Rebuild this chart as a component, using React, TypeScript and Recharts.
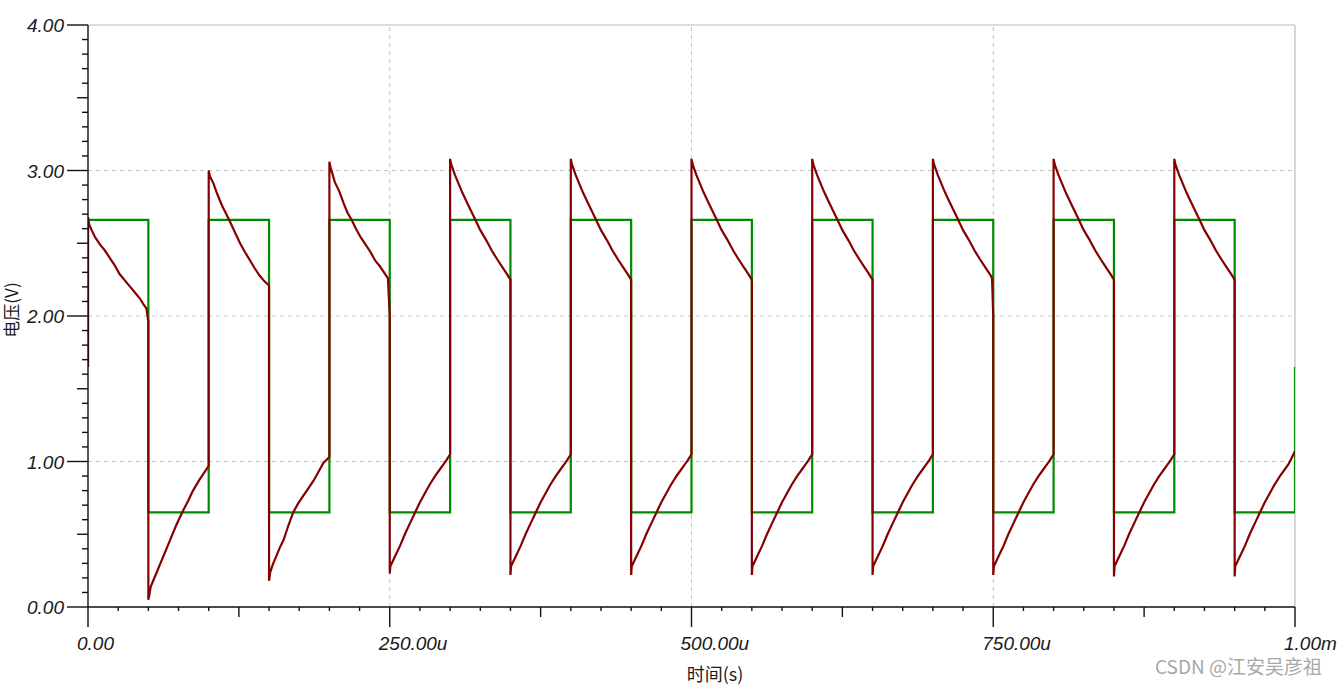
import { LineChart, Line, XAxis, YAxis, ReferenceLine } from 'recharts'

// time in microseconds, voltage in volts
const X_TICKS = [
  0, 25, 50, 75, 100, 125, 150, 175, 200, 225, 250, 275, 300, 325, 350, 375, 400, 425, 450, 475, 500,
  525, 550, 575, 600, 625, 650, 675, 700, 725, 750, 775, 800, 825, 850, 875, 900, 925, 950, 975, 1000,
]
const X_LABELS: Record<number, string> = {
  0: '0.00',
  250: '250.00u',
  500: '500.00u',
  750: '750.00u',
  1000: '1.00m',
}
const Y_TICKS = Array.from({ length: 41 }, (_, i) => i / 10)
const Y_LABELS = ['0.00', '1.00', '2.00', '3.00', '4.00']

// green: square wave source
const greenWave: [number, number][] = [
  [0, 1.65], [0, 2.66], [50, 2.66], [50, 0.65], [100, 0.65],
  [100, 2.66], [150, 2.66], [150, 0.65], [200, 0.65],
  [200, 2.66], [250, 2.66], [250, 0.65], [300, 0.65],
  [300, 2.66], [350, 2.66], [350, 0.65], [400, 0.65],
  [400, 2.66], [450, 2.66], [450, 0.65], [500, 0.65],
  [500, 2.66], [550, 2.66], [550, 0.65], [600, 0.65],
  [600, 2.66], [650, 2.66], [650, 0.65], [700, 0.65],
  [700, 2.66], [750, 2.66], [750, 0.65], [800, 0.65],
  [800, 2.66], [850, 2.66], [850, 0.65], [900, 0.65],
  [900, 2.66], [950, 2.66], [950, 0.65], [1000, 0.65], [1000, 1.65],
]

// red: output, one array per period
const red0: [number, number][] = [
  [0, 1.65], [0, 2.68], [1, 2.63], [3, 2.59], [6, 2.54], [10, 2.49], [14, 2.45], [18, 2.4], [22, 2.35],
  [26, 2.29], [31, 2.24], [35, 2.2], [39, 2.16], [43, 2.12], [46, 2.08], [48.5, 2.05], [50, 1.96],
  [50, 0.05], [51, 0.09], [52, 0.14], [56, 0.22], [60, 0.3], [64, 0.38], [68, 0.46], [73, 0.56],
  [78, 0.65], [83, 0.73], [87, 0.8], [92, 0.87], [96, 0.92], [100, 0.97],
]
const red1: [number, number][] = [
  [100, 3.0], [101, 2.96], [104, 2.91], [107, 2.84], [111, 2.76], [114, 2.71], [117, 2.66], [122, 2.57],
  [126, 2.5], [130, 2.44], [134, 2.385], [138, 2.33], [142, 2.28], [146, 2.24], [150, 2.21],
  [150, 0.18], [151, 0.24], [153, 0.29], [156, 0.35], [159, 0.41], [162, 0.46], [166, 0.56], [170, 0.65],
  [174, 0.71], [178, 0.76], [183, 0.82], [187, 0.87], [191, 0.93], [195, 0.99], [200, 1.03],
]
const red2: [number, number][] = [
  [200, 3.06], [201, 3.02], [204.5, 2.92], [208, 2.86], [212, 2.77], [215, 2.71], [218.5, 2.66], [222, 2.6],
  [226, 2.54], [230, 2.49], [234, 2.44], [238, 2.38], [242, 2.34], [246, 2.29], [248.5, 2.26], [250, 2.0],
  [250, 0.23], [250.5, 0.28], [254.5, 0.35], [258.5, 0.42], [262.5, 0.5], [267, 0.58], [271, 0.65],
  [275, 0.72], [279, 0.78], [283, 0.84], [287.5, 0.9], [291, 0.94], [294.5, 0.98], [297, 1.01], [300, 1.05],
]
const red3: [number, number][] = [
  [300, 3.08], [301, 3.04], [304, 2.97], [307, 2.91], [310, 2.85], [314, 2.78], [317.5, 2.72], [321, 2.66],
  [325, 2.59], [330, 2.52], [334.5, 2.45], [339, 2.39], [343, 2.34], [347, 2.29], [350, 2.25],
  [350, 0.22], [350.5, 0.28], [354.5, 0.35], [358.5, 0.42], [362.5, 0.5], [367, 0.58], [371, 0.65],
  [375, 0.72], [379, 0.78], [383, 0.84], [387.5, 0.9], [391, 0.94], [394.5, 0.98], [397, 1.01], [400, 1.05],
]
const red4: [number, number][] = [
  [400, 3.08], [401, 3.04], [404, 2.97], [407, 2.91], [410, 2.85], [414, 2.78], [417.5, 2.72], [421, 2.66],
  [425, 2.59], [430, 2.52], [434.5, 2.45], [439, 2.39], [443, 2.34], [447, 2.29], [450, 2.25],
  [450, 0.22], [450.5, 0.28], [454.5, 0.35], [458.5, 0.42], [462.5, 0.5], [467, 0.58], [471, 0.65],
  [475, 0.72], [479, 0.78], [483, 0.84], [487.5, 0.9], [491, 0.94], [494.5, 0.98], [497, 1.01], [500, 1.05],
]
const red5: [number, number][] = [
  [500, 3.08], [501, 3.04], [504, 2.97], [507, 2.91], [510, 2.85], [514, 2.78], [517.5, 2.72], [521, 2.66],
  [525, 2.59], [530, 2.52], [534.5, 2.45], [539, 2.39], [543, 2.34], [547, 2.29], [550, 2.25],
  [550, 0.22], [550.5, 0.28], [554.5, 0.35], [558.5, 0.42], [562.5, 0.5], [567, 0.58], [571, 0.65],
  [575, 0.72], [579, 0.78], [583, 0.84], [587.5, 0.9], [591, 0.94], [594.5, 0.98], [597, 1.01], [600, 1.05],
]
const red6: [number, number][] = [
  [600, 3.08], [601, 3.04], [604, 2.97], [607, 2.91], [610, 2.85], [614, 2.78], [617.5, 2.72], [621, 2.66],
  [625, 2.59], [630, 2.52], [634.5, 2.45], [639, 2.39], [643, 2.34], [647, 2.29], [650, 2.25],
  [650, 0.22], [650.5, 0.28], [654.5, 0.35], [658.5, 0.42], [662.5, 0.5], [667, 0.58], [671, 0.65],
  [675, 0.72], [679, 0.78], [683, 0.84], [687.5, 0.9], [691, 0.94], [694.5, 0.98], [697, 1.01], [700, 1.05],
]
const red7: [number, number][] = [
  [700, 3.08], [701, 3.04], [704, 2.97], [707, 2.91], [710, 2.85], [714, 2.78], [717.5, 2.72], [721, 2.66],
  [725, 2.59], [730, 2.52], [734.5, 2.45], [739, 2.39], [743, 2.34], [747, 2.29], [749, 2.26], [750, 2.0],
  [750, 0.22], [750.5, 0.28], [754.5, 0.35], [758.5, 0.42], [762.5, 0.5], [767, 0.58], [771, 0.65],
  [775, 0.72], [779, 0.78], [783, 0.84], [787.5, 0.9], [791, 0.94], [794.5, 0.98], [797, 1.01], [800, 1.05],
]
const red8: [number, number][] = [
  [800, 3.08], [801, 3.04], [804, 2.97], [807, 2.91], [810, 2.85], [814, 2.78], [817.5, 2.72], [821, 2.66],
  [825, 2.59], [830, 2.52], [834.5, 2.45], [839, 2.39], [843, 2.34], [847, 2.29], [850, 2.25],
  [850, 0.21], [850.5, 0.28], [854.5, 0.35], [858.5, 0.42], [862.5, 0.5], [867, 0.58], [871, 0.65],
  [875, 0.72], [879, 0.78], [883, 0.84], [887.5, 0.9], [891, 0.94], [894.5, 0.98], [897, 1.01], [900, 1.05],
]
const red9: [number, number][] = [
  [900, 3.08], [901, 3.04], [904, 2.97], [907, 2.91], [910, 2.85], [914, 2.78], [917.5, 2.72], [921, 2.66],
  [925, 2.59], [930, 2.52], [934.5, 2.45], [939, 2.39], [943, 2.34], [947, 2.29], [950, 2.25],
  [950, 0.21], [950.5, 0.28], [954.5, 0.35], [958.5, 0.42], [962.5, 0.5], [967, 0.58], [971, 0.65],
  [975, 0.72], [979, 0.78], [983, 0.84], [987.5, 0.9], [991, 0.94], [994.5, 0.98], [997, 1.02], [1000, 1.07],
]

const greenData = greenWave.map(([t, v]) => ({ t, v }))
const redData = [...red0, ...red1, ...red2, ...red3, ...red4, ...red5, ...red6, ...red7, ...red8, ...red9].map(
  ([t, v]) => ({ t, v })
)

const TICK_FONT = {
  fontFamily: '"Liberation Sans", Arial, sans-serif',
  fontStyle: 'italic',
  fontSize: 19,
  fill: '#1a1a22',
}

function XTick(props: any) {
  const { x, y, payload } = props
  const v = payload.value
  const len = v % 250 === 0 ? 20 : v % 125 === 0 ? 10 : 4
  const label = X_LABELS[v]
  return (
    <g>
      <line x1={x} x2={x} y1={y} y2={y + len} stroke="#111" strokeWidth={1.4} />
      {label && (
        <text x={x - 11} y={y + 43} textAnchor="start" {...TICK_FONT}>
          {label}
        </text>
      )}
    </g>
  )
}

function YTick(props: any) {
  const { x, y, payload } = props
  const v = payload.value
  const n = Math.round(v * 10)
  const major = n % 10 === 0
  const len = major ? 21 : n % 5 === 0 ? 11 : 6
  return (
    <g>
      <line x1={x - len} x2={x} y1={y} y2={y} stroke="#111" strokeWidth={1.4} />
      {major && (
        <text x={x - 24} y={y + 7} textAnchor="end" {...TICK_FONT}>
          {Y_LABELS[n / 10]}
        </text>
      )}
    </g>
  )
}

const GRID = '#c4c4c4'
const TITLE_FONT = '"Noto Sans CJK SC", "Liberation Sans", sans-serif'

export default function App() {
  return (
    <div style={{ position: 'absolute', left: 0, top: 0, width: 1342, height: 685, background: '#fff' }}>
      <LineChart width={1342} height={685} margin={{ top: 25, right: 47, bottom: 0, left: 0 }}>
        <XAxis
          dataKey="t"
          type="number"
          domain={[0, 1000]}
          ticks={X_TICKS}
          interval={0}
          tick={XTick}
          tickLine={false}
          tickSize={0}
          tickMargin={0}
          height={78}
          axisLine={{ stroke: '#111', strokeWidth: 1.4 }}
          allowDataOverflow
        />
        <YAxis
          type="number"
          domain={[0, 4]}
          ticks={Y_TICKS}
          interval={0}
          tick={YTick}
          tickLine={false}
          tickSize={0}
          tickMargin={0}
          width={88}
          axisLine={{ stroke: '#111', strokeWidth: 1.4 }}
          allowDataOverflow
        />
        <ReferenceLine y={1} stroke={GRID} strokeDasharray="4 4" />
        <ReferenceLine y={2} stroke={GRID} strokeDasharray="4 4" />
        <ReferenceLine y={3} stroke={GRID} strokeDasharray="4 4" />
        <ReferenceLine y={4} stroke="#d0d0d0" strokeWidth={1.5} />
        <ReferenceLine x={250} stroke={GRID} strokeDasharray="4 4" />
        <ReferenceLine x={500} stroke={GRID} strokeDasharray="4 4" />
        <ReferenceLine x={750} stroke={GRID} strokeDasharray="4 4" />
        <ReferenceLine x={1000} stroke="#c8c8c8" strokeWidth={1.5} />
        <Line
          data={greenData}
          dataKey="v"
          type="linear"
          stroke="#008a00"
          strokeWidth={2.2}
          dot={false}
          isAnimationActive={false}
        />
        <Line
          data={redData}
          dataKey="v"
          type="linear"
          stroke="#850000"
          strokeWidth={2.2}
          dot={false}
          isAnimationActive={false}
        />
      </LineChart>
      <div
        style={{
          position: 'absolute',
          left: 11,
          top: 310,
          transform: 'translate(-50%, -50%) rotate(-90deg)',
          fontFamily: TITLE_FONT,
          fontSize: 17,
          lineHeight: '18px',
          color: '#1a1a1a',
          whiteSpace: 'nowrap',
        }}
      >
        电压(V)
      </div>
      <div
        style={{
          position: 'absolute',
          left: 715,
          top: 673,
          transform: 'translate(-50%, -50%)',
          fontFamily: TITLE_FONT,
          fontSize: 18,
          color: '#1a1a1a',
          whiteSpace: 'nowrap',
        }}
      >
        时间(s)
      </div>
      <div
        style={{
          position: 'absolute',
          left: 1155,
          top: 665,
          transform: 'translateY(-50%)',
          fontFamily: TITLE_FONT,
          fontSize: 19,
          color: '#a8a8a8',
          whiteSpace: 'nowrap',
        }}
      >
        CSDN @江安吴彦祖
      </div>
    </div>
  )
}
